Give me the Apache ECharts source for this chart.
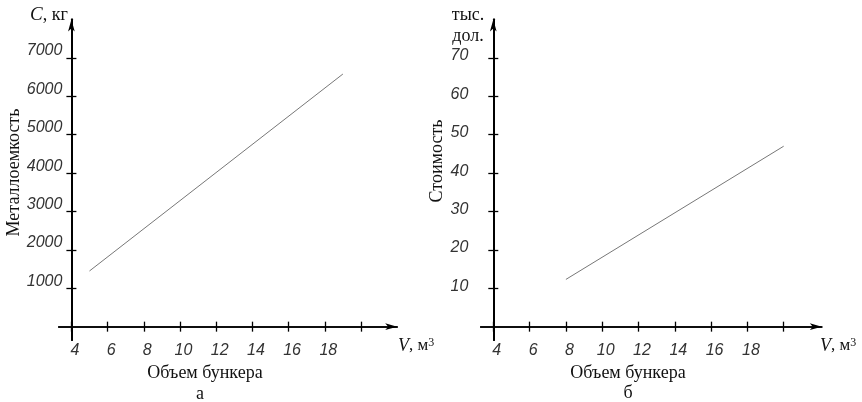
<!DOCTYPE html>
<html>
<head>
<meta charset="utf-8">
<script src="https://cdn.jsdelivr.net/npm/echarts@6/dist/echarts.min.js"></script>
<style>
  html, body { margin: 0; padding: 0; background: #fff; }
  #chart { width: 862px; height: 402px; }
</style>
</head>
<body>
<div id="chart"></div>
<script>
// shared x axis: bunker volume, m3
const volumeTicks = [4, 6, 8, 10, 12, 14, 16, 18, 20]
const volumeLabels = [4, 6, 8, 10, 12, 14, 16, 18]

// panel a: metal consumption, kg
const massTicks = [1000, 2000, 3000, 4000, 5000, 6000, 7000]
const massV = [5, 19]
const massC = [1450, 6580]

// panel b: cost, thousand dollars
const costTicks = [10, 20, 30, 40, 50, 60, 70]
const costV = [8, 20]
const costC = [12.3, 47]

const tickFont = {
  fontFamily: '"Liberation Sans", Arial, sans-serif',
  fontStyle: 'italic',
  fontSize: 16,
  color: '#333',
  formatter: v => String(v)
}
const serif = '"Liberation Serif", "DejaVu Serif", serif'

const chart = echarts.init(document.getElementById('chart'))

function xAxes(gridIndex, yIndex, max, inside) {
  return {
    gridIndex: gridIndex,
    type: 'value',
    position: 'bottom',
    min: 3.3,
    max: max,
    axisLine: {
      onZero: true,
      onZeroAxisIndex: yIndex,
      symbol: inside ? 'none' : ['none', 'arrow'],
      symbolSize: [5, 12],
      lineStyle: { color: '#000', width: 1.5 }
    },
    axisTick: {
      inside: inside,
      length: 5,
      customValues: volumeTicks,
      lineStyle: { color: '#000', width: 1.3 }
    },
    axisLabel: inside ? { show: false } : Object.assign({
      customValues: volumeLabels,
      margin: 2,
      padding: [0, 0, 0, 7]
    }, tickFont),
    splitLine: { show: false }
  }
}

function yAxes(gridIndex, min, max, ticks, inside, label) {
  return {
    gridIndex: gridIndex,
    type: 'value',
    position: 'left',
    offset: -12.7,
    min: min,
    max: max,
    axisLine: {
      onZero: false,
      symbol: inside ? 'none' : ['none', 'arrow'],
      symbolSize: [5, 12],
      lineStyle: { color: '#000', width: 2 }
    },
    axisTick: {
      inside: inside,
      length: 5,
      customValues: ticks,
      lineStyle: { color: '#000', width: 1.3 }
    },
    axisLabel: inside ? { show: false } : Object.assign({ customValues: ticks }, tickFont, label),
    splitLine: { show: false }
  }
}

function txt(x, y, text, extra) {
  return {
    type: 'text',
    x: x,
    y: y,
    z: 100,
    rotation: extra && extra.rotation || 0,
    style: Object.assign({
      text: text,
      fontFamily: serif,
      fontSize: 18,
      fill: '#111',
      align: 'center',
      verticalAlign: 'middle'
    }, extra && extra.style)
  }
}

function unitV(x) {
  return {
    type: 'text', x: x, y: 346, z: 100,
    style: {
      text: '{i|V}{r|, м}{s|3}',
      verticalAlign: 'middle',
      rich: {
        i: { fontFamily: serif, fontStyle: 'italic', fontSize: 18, fill: '#111' },
        r: { fontFamily: serif, fontSize: 17, fill: '#111' },
        s: { fontFamily: serif, fontSize: 12, fill: '#111', verticalAlign: 'top', padding: [0, 0, 6, 0] }
      }
    }
  }
}

chart.setOption({
  animation: false,
  grid: [
    { left: 58.7, width: 338.5, top: 19.5, height: 320.6 },
    { left: 480.6, width: 341.2, top: 19.5, height: 320.6 }
  ],
  xAxis: [
    xAxes(0, 0, 22, false),
    xAxes(0, 0, 22, true),
    xAxes(1, 2, 22.1, false),
    xAxes(1, 2, 22.1, true)
  ],
  yAxis: [
    yAxes(0, -350, 8000, massTicks, false, { margin: 9, verticalAlign: 'bottom', lineHeight: 14 }),
    yAxes(0, -350, 8000, massTicks, true),
    yAxes(1, -3.5, 80, costTicks, false, { margin: 25, verticalAlign: 'bottom', lineHeight: 4 }),
    yAxes(1, -3.5, 80, costTicks, true)
  ],
  series: [
    {
      type: 'line',
      xAxisIndex: 0,
      yAxisIndex: 0,
      showSymbol: false,
      lineStyle: { color: '#777', width: 1 },
      data: massV.map((v, i) => [v, massC[i]])
    },
    {
      type: 'line',
      xAxisIndex: 2,
      yAxisIndex: 2,
      showSymbol: false,
      lineStyle: { color: '#777', width: 1 },
      data: costV.map((v, i) => [v, costC[i]])
    }
  ],
  graphic: [
    {
      type: 'text', x: 30, y: 15, z: 100,
      style: {
        text: '{i|C}{r|, кг}',
        verticalAlign: 'middle',
        rich: {
          i: { fontFamily: serif, fontStyle: 'italic', fontSize: 19, fill: '#111' },
          r: { fontFamily: serif, fontSize: 18, fill: '#111' }
        }
      }
    },
    txt(14, 172.5, 'Металлоемкость', { rotation: Math.PI / 2 }),
    unitV(398),
    txt(205, 373, 'Объем бункера'),
    txt(200, 394, 'а'),
    txt(468, 15, 'тыс.'),
    txt(468, 36, 'дол.', { style: { backgroundColor: '#fff', padding: [0, 0, 5, 0] } }),
    txt(437, 161, 'Стоимость', { rotation: Math.PI / 2 }),
    unitV(820),
    txt(628, 373, 'Объем бункера'),
    txt(628, 393, 'б')
  ]
})
</script>
</body>
</html>
